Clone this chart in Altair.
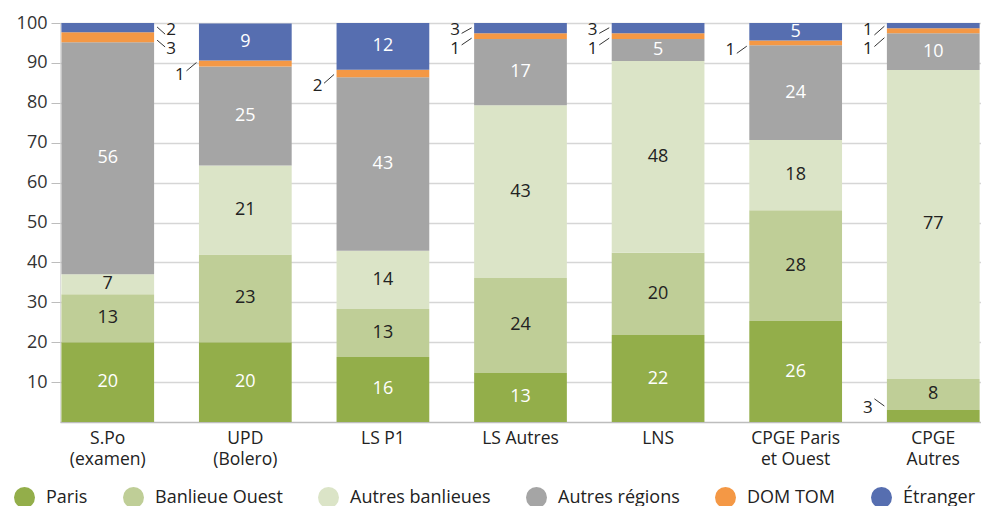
import altair as alt
import pandas as pd

categories = ["S.Po|(examen)", "UPD|(Bolero)", "LS P1", "LS Autres", "LNS",
              "CPGE Paris|et Ouest", "CPGE|Autres"]
series = ["Paris", "Banlieue Ouest", "Autres banlieues", "Autres régions", "DOM TOM", "Étranger"]
colors = ["#93ae4a", "#bfce97", "#dbe4c7", "#a5a5a5", "#f49845", "#566eb0"]
label_colors = ["#ffffff", "#222222", "#222222", "#ffffff", "#222222", "#ffffff"]

# segment heights (%)
paris = [20, 20, 16.3, 12.3, 21.8, 25.3, 3.0]
banlieue_ouest = [12, 22, 12, 23.8, 20.6, 27.8, 7.8]
autres_banlieues = [5, 22.3, 14.6, 43.3, 48.1, 17.6, 77.4]
autres_regions = [58.2, 24.8, 43.5, 16.6, 5.5, 23.7, 9.2]
dom_tom = [2.5, 1.5, 1.9, 1.4, 1.4, 1.2, 1.3]
etranger = [2.3, 9.3, 11.7, 2.6, 2.6, 4.4, 1.3]

# printed data labels
paris_lbl = ["20", "20", "16", "13", "22", "26", "3"]
banlieue_ouest_lbl = ["13", "23", "13", "24", "20", "28", "8"]
autres_banlieues_lbl = ["7", "21", "14", "43", "48", "18", "77"]
autres_regions_lbl = ["56", "25", "43", "17", "5", "24", "10"]
dom_tom_lbl = ["3", "1", "2", "1", "1", "1", "1"]
etranger_lbl = ["2", "9", "12", "3", "3", "5", "1"]

# labels drawn outside the bar, with a leader line
callout_cat = [0, 0, 1, 2, 3, 3, 4, 4, 5, 6, 6, 6]
callout_series = ["Étranger", "DOM TOM", "DOM TOM", "DOM TOM", "Étranger", "DOM TOM",
                  "Étranger", "DOM TOM", "DOM TOM", "Étranger", "DOM TOM", "Paris"]
callout_side = ["right", "right", "left", "left", "left", "left",
                "left", "left", "left", "left", "left", "left"]
callout_text_y = [98.3, 93.4, 87.0, 84.2, 98.3, 93.4, 98.3, 93.4, 93.2, 98.3, 93.4, 3.5]
leader_left_y = [99.0, 95.7, 88.0, 84.9, 97.4, 94.5, 97.4, 94.5, 92.4, 97.0, 94.1, 5.8]
leader_right_y = [97.2, 94.0, 90.1, 87.1, 98.8, 96.2, 98.8, 96.2, 94.2, 99.2, 96.3, 4.0]

heights = [paris, banlieue_ouest, autres_banlieues, autres_regions, dom_tom, etranger]
labels = [paris_lbl, banlieue_ouest_lbl, autres_banlieues_lbl, autres_regions_lbl,
          dom_tom_lbl, etranger_lbl]

outside = {(categories[c], s) for c, s in zip(callout_cat, callout_series)}

rows = []
for i, c in enumerate(categories):
    base = 0.0
    for k, s in enumerate(series):
        h = heights[k][i]
        rows.append(dict(cat=c, series=s, y0=base, y1=base + h, mid=base + h / 2,
                         label=labels[k][i], tc=label_colors[k],
                         inside=(c, s) not in outside))
        base += h
df = pd.DataFrame(rows)

crow = []
for j, ci in enumerate(callout_cat):
    c = categories[ci]
    k = series.index(callout_series[j])
    crow.append(dict(cat=c, side=callout_side[j], ty=callout_text_y[j],
                     ly=leader_left_y[j], ry=leader_right_y[j], text=labels[k][ci]))
cdf = pd.DataFrame(crow)

FONT = "Open Sans"
FS = 18
xscale = alt.Scale(domain=categories, paddingInner=0.326, paddingOuter=0.01)
yscale = alt.Scale(domain=[0, 100], nice=False)
xaxis = alt.Axis(labelExpr="split(datum.label, '|')", labelFontSize=17.5, labelColor="#222222",
                 labelFont=FONT, labelPadding=7, labelLineHeight=21, ticks=False,
                 domainColor="#bdbdbd", domainWidth=1.5, labelAngle=0, title=None)
yaxis = alt.Axis(values=list(range(10, 101, 10)), labelFontSize=FS, labelColor="#333333",
                 labelFont=FONT, tickColor="#bdbdbd", tickSize=9, labelPadding=4,
                 grid=True, gridColor="#d6d6d6", gridWidth=1.5, domain=False, title=None)


def X(bp=None):
    if bp is None:
        return alt.X("cat:N", sort=categories, scale=xscale, axis=xaxis, title=None)
    return alt.X("cat:N", sort=categories, scale=xscale, axis=xaxis, title=None, bandPosition=bp)


def Y(field):
    return alt.Y(field, scale=yscale, axis=yaxis, title=None)


bars = alt.Chart(df).mark_bar().encode(
    x=X(),
    y=Y("y0:Q"),
    y2="y1:Q",
    color=alt.Color("series:N", sort=series,
                    scale=alt.Scale(domain=series, range=colors),
                    legend=alt.Legend(title=None, orient="none", direction="horizontal",
                                      legendX=-46, legendY=464, symbolType="circle",
                                      symbolSize=441, symbolStrokeWidth=0,
                                      labelFontSize=FS, labelFont=FONT, labelColor="#222222",
                                      labelOffset=11, columnPadding=35)),
)

inner = alt.Chart(df).transform_filter("datum.inside").mark_text(
    fontSize=FS, font=FONT, baseline="middle", align="center"
).encode(x=X(), y=Y("mid:Q"), text="label:N", color=alt.Color("tc:N", scale=None))

left_txt = alt.Chart(cdf).transform_filter("datum.side == 'left'").mark_text(
    fontSize=17, font=FONT, color="#222222", baseline="middle", align="center", dx=-19
).encode(x=X(0), y=Y("ty:Q"), text="text:N")

right_txt = alt.Chart(cdf).transform_filter("datum.side == 'right'").mark_text(
    fontSize=17, font=FONT, color="#222222", baseline="middle", align="center", dx=17
).encode(x=X(1), y=Y("ty:Q"), text="text:N")

left_lead = alt.Chart(cdf).transform_filter("datum.side == 'left'").mark_rule(
    color="#333333", strokeWidth=1, xOffset=-12.5, x2Offset=-2.5
).encode(x=X(0), x2=alt.X2("cat", bandPosition=0), y=Y("ly:Q"), y2="ry:Q")

right_lead = alt.Chart(cdf).transform_filter("datum.side == 'right'").mark_rule(
    color="#333333", strokeWidth=1, xOffset=3, x2Offset=11
).encode(x=X(1), x2=alt.X2("cat", bandPosition=1), y=Y("ly:Q"), y2="ry:Q")

chart = alt.layer(bars, inner, left_lead, right_lead, left_txt, right_txt).properties(
    width=921, height=399,
    autosize=alt.AutoSizeParams(type="none"),
    padding={"left": 52, "top": 15, "right": 0, "bottom": 84},
).configure_view(stroke=None).configure(font=FONT)

chart.save("out.html", embed_options={"renderer": "svg", "actions": False})
